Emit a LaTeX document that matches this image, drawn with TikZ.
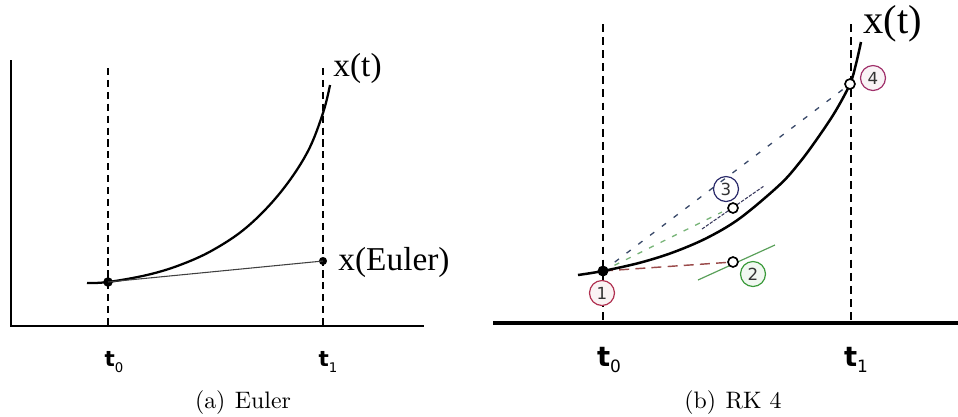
\documentclass[tikz,border=0pt]{standalone}
\usepackage{fontspec}
\newfontfamily\lblfont{Liberation Serif}
\newfontfamily\tfont{DejaVu Sans}
\usetikzlibrary{calc}
\definecolor{redline}{HTML}{9A4A4A}
\definecolor{greenline}{HTML}{5AA05A}
\definecolor{greendash}{HTML}{78B478}
\definecolor{bluedash}{HTML}{3A4A6A}
\definecolor{tanthree}{HTML}{3A3A5E}
\definecolor{cone}{HTML}{B03050}
\definecolor{ctwo}{HTML}{3A9A3A}
\definecolor{cthree}{HTML}{2A2A6A}
\definecolor{cfour}{HTML}{A0306A}
\tikzset{
  axisline/.style={line width=1.1pt},
  guide/.style={line width=0.5pt, dash pattern=on 3pt off 2pt},
  curveline/.style={line width=0.95pt},
  dotfilled/.style={circle, fill=black, inner sep=0pt, minimum size=4pt},
  opendot/.style={circle, draw=black, fill=white, line width=0.7pt, inner sep=0pt, minimum size=4.2pt},
  numcirc/.style={circle, draw=#1, line width=0.5pt, inner sep=0pt, minimum size=10.5pt,
     font=\tfont\fontsize{7}{7}\selectfont, text=black!80},
  tlabel/.style={font=\tfont\fontsize{9}{9}\selectfont},
  tlabelbig/.style={font=\tfont\fontsize{11.5}{11.5}\selectfont},
  caption/.style={font=\fontsize{10}{12}\selectfont}
}
\newcommand{\tsub}[1]{{\bfseries t}\raisebox{-0.45ex}{\fontsize{0.62em}{0.62em}\selectfont #1}}
\begin{document}
\begin{tikzpicture}[x=0.42pt, y=-0.42pt]
\useasboundingbox (0,0) rectangle (958,416);
% ---------------- (a) Euler ----------------
\coordinate (aOrigin) at (11,326);
\coordinate (aTop) at (11,60);
\coordinate (aRight) at (424,326);
\draw[axisline] (aTop) -- (aOrigin) -- (aRight);
\coordinate (aG0top) at (108,68);
\coordinate (aG0bot) at (108,326);
\coordinate (aG1top) at (323,68);
\coordinate (aG1bot) at (323,326);
\draw[guide] (aG0top) -- (aG0bot);
\draw[guide] (aG1top) -- (aG1bot);
\draw[curveline] plot[smooth, tension=0.6] coordinates {(87,283) (108,282) (147,275) (180,265) (213,250) (247,227) (280,193) (307,153) (323,113) (330,85)};
\node[dotfilled] (aX0) at (108,282) {};
\node[dotfilled, minimum size=3.4pt] (aE) at (323,261) {};
\draw[line width=0.45pt, black!75] (aX0.center) -- (aE.center);
\node[anchor=west, font=\lblfont\fontsize{14}{14}\selectfont, inner sep=0pt] (aXt) at (333,68) {x(t)};
\node[anchor=west, font=\lblfont\fontsize{14}{14}\selectfont, inner sep=0pt] (aXE) at (338,262) {x(Euler)};
\node[tlabel] (aT0) at (114,362) {\tsub{0}};
\node[tlabel] (aT1) at (328,362) {\tsub{1}};
\node[caption] (capA) at (243,403) {(a)\hspace{4pt}Euler};
% ---------------- (b) RK 4 ----------------
\coordinate (bLeft) at (493,323);
\coordinate (bRight) at (958,323);
\draw[line width=1.3pt] (bLeft) -- (bRight);
\coordinate (bG0top) at (603,24);
\coordinate (bG0bot) at (603,323);
\coordinate (bG1top) at (851,24);
\coordinate (bG1bot) at (851,323);
\draw[guide, dash pattern=on 3.3pt off 2.2pt] (bG0top) -- (bG0bot);
\draw[guide, dash pattern=on 3.3pt off 2.2pt] (bG1top) -- (bG1bot);
% points
\coordinate (p1) at (603,271);
\coordinate (p2) at (733,262);
\coordinate (p3) at (733,208);
\coordinate (p4) at (850,84);
% slope construction lines
\coordinate (t2a) at (698,280);
\coordinate (t2b) at (775,245);
\coordinate (t3a) at (702,229);
\coordinate (t3b) at (764,186);
\coordinate (g3end) at (722,212);
\draw[greenline, line width=0.5pt] (t2a) -- (t2b);
\draw[redline, line width=0.6pt, dash pattern=on 4.2pt off 2.6pt] (p1) -- (p2);
\draw[greendash, line width=0.55pt, dash pattern=on 2.2pt off 3.2pt] (p1) -- (g3end);
\draw[bluedash, line width=0.55pt, dash pattern=on 2.2pt off 4pt] (p1) -- (p4);
\draw[tanthree, line width=0.45pt, dash pattern=on 1.4pt off 0.6pt] (t3a) -- (t3b);
% exact curve
\draw[line width=1.05pt] plot[smooth, tension=0.55] coordinates {(578,275) (603,271) (640,262.7) (673,252.4) (707,237.9) (740,218.2) (780,184.5) (800,162) (817,139) (835,112) (850,84) (856,64) (861,42)};
\node[dotfilled, minimum size=4.6pt] (P1) at (p1) {};
\node[opendot] (P2) at (p2) {};
\node[opendot] (P3) at (p3) {};
\node[opendot] (P4) at (p4) {};
\node[numcirc=cone, fill=cone!6] (n1) at (602,293) {1};
\node[numcirc=ctwo, fill=ctwo!7] (n2) at (753,274) {2};
\node[numcirc=cthree] (n3) at (726,189) {3};
\node[numcirc=cfour, fill=cfour!6] (n4) at (873,78) {4};
\node[anchor=west, font=\lblfont\fontsize{17}{17}\selectfont, inner sep=0pt] (bXt) at (863,24) {x(t)};
\node[tlabelbig] (bT0) at (609,360) {\tsub{0}};
\node[tlabelbig] (bT1) at (856,360) {\tsub{1}};
\node[caption] (capB) at (733,403) {(b)\hspace{4pt}RK 4};
\end{tikzpicture}
\end{document}
